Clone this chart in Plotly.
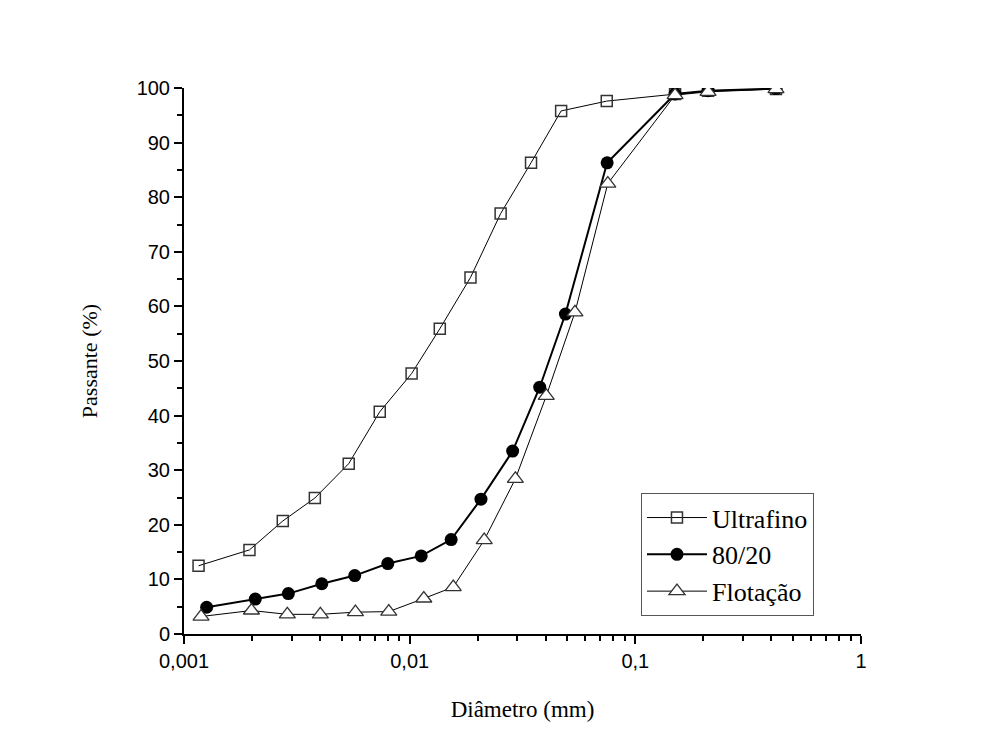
import plotly.graph_objects as go

# Data
ultrafino_x = [0.00116, 0.00195, 0.00274, 0.0038, 0.00537, 0.00737, 0.0102, 0.0136,
               0.0186, 0.0253, 0.0345, 0.0469, 0.0747, 0.150, 0.210, 0.420]
ultrafino_y = [12.5, 15.4, 20.7, 24.9, 31.2, 40.7, 47.7, 55.9,
               65.3, 77.0, 86.3, 95.8, 97.6, 98.9, 99.5, 99.8]

mix_x = [0.00126, 0.00207, 0.0029, 0.00408, 0.00571, 0.0080, 0.01125, 0.01527,
         0.0207, 0.0286, 0.0377, 0.049, 0.075, 0.150, 0.210, 0.420]
mix_y = [4.9, 6.4, 7.4, 9.2, 10.7, 12.9, 14.3, 17.3,
         24.7, 33.5, 45.2, 58.6, 86.3, 98.9, 99.5, 99.9]

flot_x = [0.00119, 0.00199, 0.00287, 0.00402, 0.00575, 0.00808, 0.01155, 0.0156,
          0.0214, 0.0294, 0.0403, 0.054, 0.0755, 0.150, 0.210, 0.420]
flot_y = [3.2, 4.3, 3.6, 3.6, 4.0, 4.1, 6.5, 8.6,
          17.2, 28.4, 43.6, 58.9, 82.5, 98.7, 99.3, 99.8]

x_tickvals = [0.001, 0.01, 0.1, 1]
x_ticktext = ["0,001", "0,01", "0,1", "1"]
x_minor = [m * d for d in (0.001, 0.01, 0.1) for m in range(2, 10)]

fig = go.Figure()
fig.add_trace(go.Scatter(
    x=ultrafino_x, y=ultrafino_y, name="Ultrafino", mode="lines+markers",
    line=dict(color="black", width=1),
    marker=dict(symbol="square-open", size=11, color="#333", line=dict(width=1.5)),
))
fig.add_trace(go.Scatter(
    x=mix_x, y=mix_y, name="80/20", mode="lines+markers",
    line=dict(color="black", width=2),
    marker=dict(symbol="circle", size=13, color="black"),
))
fig.add_trace(go.Scatter(
    x=flot_x, y=flot_y, name="Flotação", mode="lines+markers",
    line=dict(color="black", width=1),
    marker=dict(symbol="triangle-up", size=14, color="white",
                line=dict(color="#333", width=1.3)),
))

fig.update_layout(
    width=988, height=755,
    paper_bgcolor="white", plot_bgcolor="white",
    margin=dict(l=184, r=127, t=88, b=121),
    showlegend=True,
    legend=dict(
        x=0.675, y=0.258, xanchor="left", yanchor="top",
        bgcolor="white", bordercolor="#555", borderwidth=1,
        font=dict(family="Liberation Serif", size=26, color="black"),
        itemwidth=60, tracegroupgap=0,
    ),
    xaxis=dict(
        type="log", range=[-3, 0],
        tickvals=x_tickvals, ticktext=x_ticktext,
        ticks="outside", ticklen=8, tickwidth=2, tickcolor="black",
        showline=True, linecolor="black", linewidth=2,
        showgrid=False, zeroline=False,
        tickfont=dict(family="Liberation Sans", size=20, color="black"),
        minor=dict(tickvals=x_minor, ticks="outside", ticklen=5, tickwidth=1.5,
                   tickcolor="black", showgrid=False),
        title=dict(text="Diâmetro (mm)", standoff=30,
                   font=dict(family="Liberation Serif", size=23, color="black")),
    ),
    yaxis=dict(
        range=[0, 100], dtick=10, tick0=0,
        ticks="outside", ticklen=8, tickwidth=2, tickcolor="black",
        showline=True, linecolor="black", linewidth=2,
        showgrid=False, zeroline=False,
        tickfont=dict(family="Liberation Sans", size=20, color="black"),
        minor=dict(dtick=5, ticks="outside", ticklen=5, tickwidth=1.5,
                   tickcolor="black", showgrid=False),
        title=dict(text="Passante (%)", standoff=33,
                   font=dict(family="Liberation Serif", size=22, color="black")),
    ),
)

fig.write_html("out.html")
